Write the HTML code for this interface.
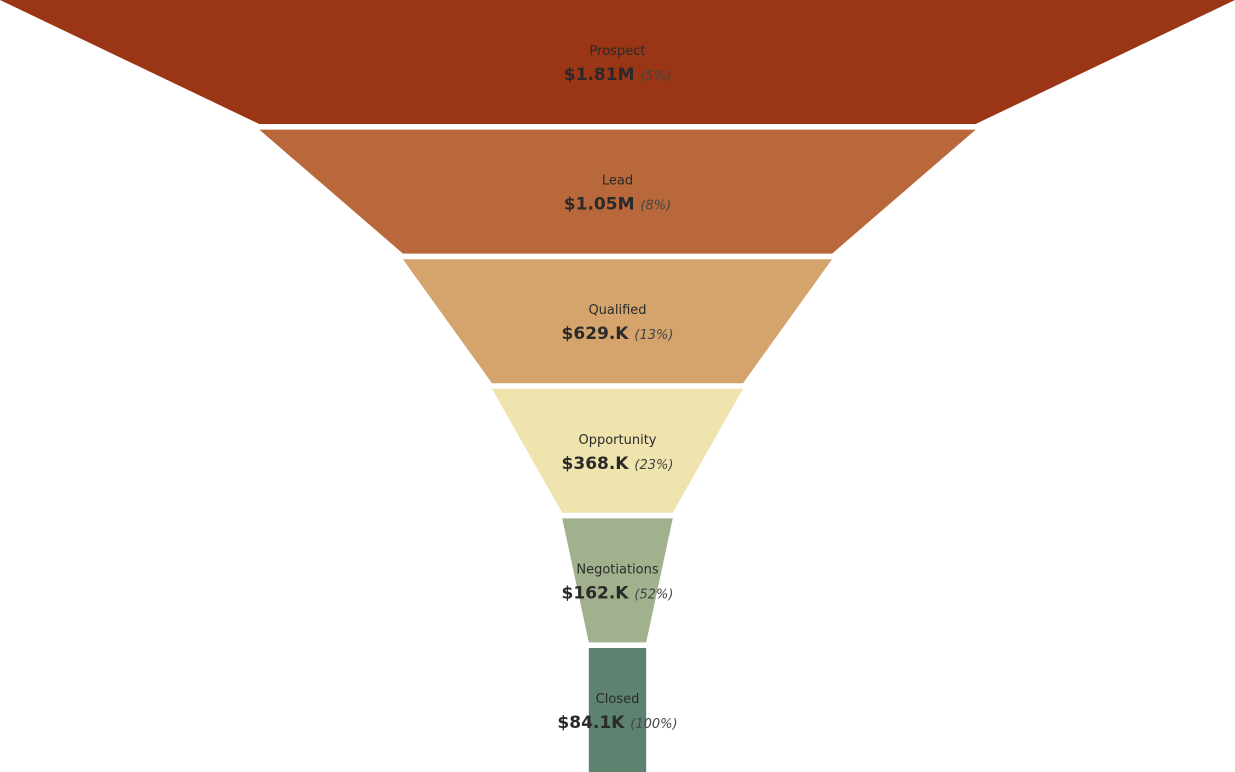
<!DOCTYPE html>
<html><head><meta charset="utf-8"><style>
html,body{margin:0;padding:0;background:#fff;}
svg{display:block;font-family:"DejaVu Sans","Liberation Sans",sans-serif;}
</style></head><body>
<svg id="chart" width="1235" height="772" viewBox="0 0 1235 772"></svg>
<script>
const stages = ["Prospect","Lead","Qualified","Opportunity","Negotiations","Closed"];
const values = [1810000,1050000,629000,368000,162000,84100];
const valueLabels = ["$1.81M","$1.05M","$629.K","$368.K","$162.K","$84.1K"];
const colors = ["#9a3515","#b8683a","#d4a46c","#efe3ae","#a1b18d","#5e8270"];

const W=1235, H=772, cx=617.5, pitch=129.6, rowH=124;
const maxV = Math.max(...values);
const wScale = v => v/maxV*W;
const svg=document.getElementById('chart');
const NS='http://www.w3.org/2000/svg';
const closedV = values[values.length-1];
stages.forEach((s,i)=>{
  const y0=i*pitch, y1=y0+rowH;
  const wt=wScale(values[i]);
  const wb= i<values.length-1 ? wScale(values[i+1]) : wt;
  const p=document.createElementNS(NS,'polygon');
  p.setAttribute('points',`${cx-wt/2},${y0} ${cx+wt/2},${y0} ${cx+wb/2},${y1} ${cx-wb/2},${y1}`);
  p.setAttribute('fill',colors[i]);
  
  
  svg.appendChild(p);
  const t=document.createElementNS(NS,'text');
  t.setAttribute('x',cx);t.setAttribute('y',y0+55);
  t.setAttribute('text-anchor','middle');t.setAttribute('font-size','13');t.setAttribute('fill','#2a2a2a');
  t.textContent=s;
  
  
  svg.appendChild(t);
  const v=document.createElementNS(NS,'text');
  v.setAttribute('x',cx);v.setAttribute('y',y0+80);v.setAttribute('text-anchor','middle');
  
  
  const a=document.createElementNS(NS,'tspan');
  a.setAttribute('font-size','17');a.setAttribute('font-weight','bold');a.setAttribute('fill','#2a2a2a');
  a.textContent=valueLabels[i]+' ';
  const b=document.createElementNS(NS,'tspan');
  b.setAttribute('font-size','13');b.setAttribute('font-style','italic');b.setAttribute('fill','#444');
  b.textContent='('+Math.round(closedV/values[i]*100)+'%)';
  v.appendChild(a);v.appendChild(b);svg.appendChild(v);
});
</script>
</body></html>
